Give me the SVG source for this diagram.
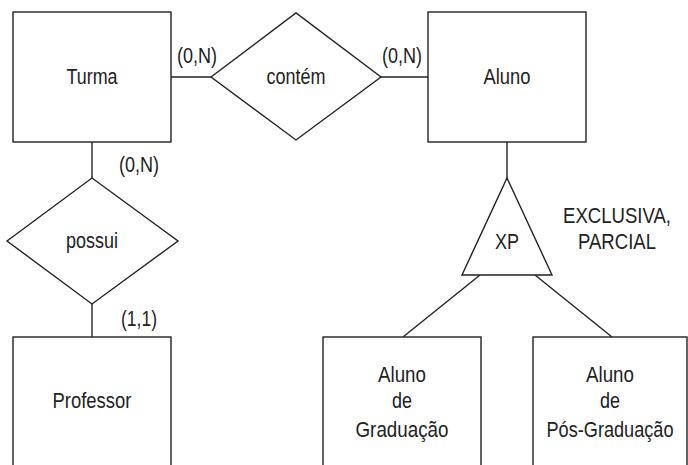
<svg xmlns="http://www.w3.org/2000/svg" width="688" height="465" viewBox="0 0 688 465">
<style>
.s{fill:#fff;stroke:#222;stroke-width:1.4}
.l{fill:none;stroke:#222;stroke-width:1.4}
text{font-family:"Liberation Sans",Arial,sans-serif;font-size:21.5px;fill:#222;text-anchor:middle}
</style>
<rect width="688" height="465" fill="#fff"/>
<g id="connectors">
<line class="l" x1="171" y1="77" x2="211" y2="77"/>
<line class="l" x1="381" y1="77" x2="428" y2="77"/>
<line class="l" x1="92" y1="142" x2="92" y2="178"/>
<line class="l" x1="92" y1="304" x2="92" y2="337"/>
<line class="l" x1="507" y1="142" x2="507" y2="178"/>
<line class="l" x1="480" y1="275" x2="403" y2="337"/>
<line class="l" x1="535" y1="275" x2="612" y2="337"/>
<text x="197" y="63" textLength="40" lengthAdjust="spacingAndGlyphs">(0,N)</text>
<text x="402" y="63" textLength="40" lengthAdjust="spacingAndGlyphs">(0,N)</text>
<text x="139" y="172" textLength="40" lengthAdjust="spacingAndGlyphs">(0,N)</text>
<text x="139" y="326" textLength="36" lengthAdjust="spacingAndGlyphs">(1,1)</text>
</g>
<g id="turma"><rect class="s" x="13" y="12" width="158" height="130"/><text x="92" y="84" textLength="51" lengthAdjust="spacingAndGlyphs">Turma</text></g>
<g id="contem"><polygon class="s" points="211,77 296,13 381,77 296,140"/><text x="296" y="84" textLength="59" lengthAdjust="spacingAndGlyphs">contém</text></g>
<g id="aluno"><rect class="s" x="428" y="12" width="158" height="130"/><text x="507" y="84" textLength="47" lengthAdjust="spacingAndGlyphs">Aluno</text></g>
<g id="possui"><polygon class="s" points="7,241 92,178 178,241 92,304"/><text x="92" y="248" textLength="52" lengthAdjust="spacingAndGlyphs">possui</text></g>
<g id="professor"><rect class="s" x="13" y="337" width="158" height="140"/><text x="92" y="408" textLength="79" lengthAdjust="spacingAndGlyphs">Professor</text></g>
<g id="xp"><polygon class="s" points="507,178 552,275 462,275"/><text x="507" y="249" textLength="24" lengthAdjust="spacingAndGlyphs">XP</text></g>
<g id="note"><text x="617" y="223" textLength="108" lengthAdjust="spacingAndGlyphs">EXCLUSIVA,</text><text x="617" y="249" textLength="78" lengthAdjust="spacingAndGlyphs">PARCIAL</text></g>
<g id="grad"><rect class="s" x="323" y="337" width="158" height="140"/><text x="402" y="382" textLength="48" lengthAdjust="spacingAndGlyphs">Aluno</text><text x="402" y="408" textLength="20" lengthAdjust="spacingAndGlyphs">de</text><text x="402" y="437" textLength="93" lengthAdjust="spacingAndGlyphs">Graduação</text></g>
<g id="posgrad"><rect class="s" x="533" y="337" width="154" height="140"/><text x="610" y="382" textLength="48" lengthAdjust="spacingAndGlyphs">Aluno</text><text x="610" y="408" textLength="20" lengthAdjust="spacingAndGlyphs">de</text><text x="610" y="437" textLength="127" lengthAdjust="spacingAndGlyphs">Pós-Graduação</text></g>
</svg>
